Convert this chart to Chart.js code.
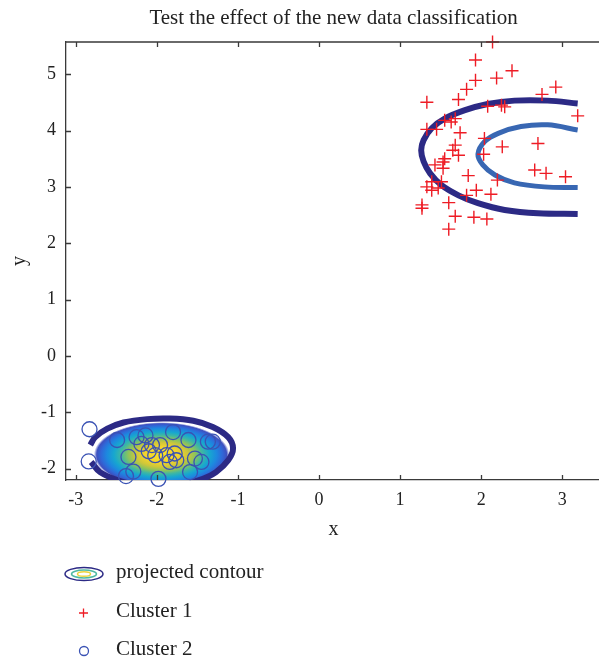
<!DOCTYPE html>
<html>
<head>
<meta charset="utf-8">
<title>Test the effect of the new data classification</title>
<script src="https://cdn.jsdelivr.net/npm/chart.js@4.4.1/dist/chart.umd.min.js"></script>
<style>
  html, body { margin: 0; padding: 0; background: #fff; overflow: hidden; }
  #wrap { position: relative; width: 610px; height: 663px; }
</style>
</head>
<body>
<div id="wrap"><canvas id="chart" width="610" height="663"></canvas></div>
<script>
// tick labels
const xTicks = [-3, -2, -1, 0, 1, 2, 3];
const yTicks = [-2, -1, 0, 1, 2, 3, 4, 5];

// Cluster 1 (red +)
const cluster1X = [2.14, 1.93, 1.93, 2.19, 2.38, 1.82, 1.72, 1.33, 2.75, 2.92, 3.19, 2.08, 2.25, 2.29, 1.68, 1.55, 1.63,
  1.33, 1.45, 1.74, 2.04, 2.26, 2.70, 1.68, 1.65, 1.72, 2.03, 1.55, 1.43, 1.53, 2.66, 2.80, 3.04, 1.84, 1.39, 1.51,
  2.20, 1.33, 1.39, 1.94, 1.82, 2.12, 1.27, 1.27, 1.60, 1.68, 1.91, 2.07, 1.60, 1.47, 1.53];
const cluster1Y = [5.57, 5.25, 4.89, 4.93, 5.06, 4.73, 4.55, 4.50, 4.64, 4.77, 4.26, 4.43, 4.45, 4.42, 4.21, 4.18, 4.15,
  4.02, 4.02, 3.96, 3.86, 3.71, 3.77, 3.74, 3.65, 3.56, 3.58, 3.50, 3.39, 3.33, 3.30, 3.24, 3.18, 3.20, 3.09, 3.09,
  3.12, 3.00, 2.94, 2.94, 2.85, 2.87, 2.68, 2.62, 2.72, 2.48, 2.46, 2.43, 2.25, 2.98, 3.44];

// Cluster 2 (blue o)
const cluster2X = [-2.83, -2.84, -2.49, -2.35, -2.29, -2.38, -2.25, -2.19, -2.14, -2.10, -2.06, -1.96, -2.02, -1.98,
  -1.88, -1.84, -1.80, -1.78, -1.76, -1.61, -1.59, -1.53, -1.45, -1.37, -1.31];
const cluster2Y = [-1.30, -1.87, -1.49, -1.79, -2.05, -2.13, -1.44, -1.56, -1.41, -1.69, -1.58, -1.58, -1.76, -2.18,
  -1.76, -1.88, -1.35, -1.73, -1.85, -1.49, -2.06, -1.82, -1.88, -1.52, -1.52];

// projected contour of cluster 1: outer and inner level
const outerArcX = [3.19, 2.82, 2.41, 2.08, 1.80, 1.55, 1.39, 1.29, 1.26, 1.29, 1.37, 1.51, 1.72, 1.96, 2.29, 2.70, 3.19];
const outerArcY = [4.48, 4.53, 4.53, 4.47, 4.36, 4.21, 4.04, 3.83, 3.65, 3.45, 3.24, 3.03, 2.85, 2.71, 2.59, 2.53, 2.52];
const innerArcX = [3.19, 2.82, 2.49, 2.21, 2.04, 1.96, 2.02, 2.17, 2.41, 2.78, 3.19];
const innerArcY = [4.01, 4.10, 4.07, 3.95, 3.80, 3.58, 3.39, 3.21, 3.07, 3.00, 2.99];

// projected contour of cluster 2: outer level, filled
const ringX = [-2.82, -2.76, -2.61, -2.41, -2.12, -1.84, -1.55, -1.31, -1.12, -1.06, -1.12, -1.27, -1.43, -1.63,
  -1.92, -2.25, -2.49, -2.70, -2.81];
const ringY = [-1.58, -1.44, -1.29, -1.18, -1.12, -1.11, -1.15, -1.26, -1.44, -1.64, -1.85, -2.06, -2.18, -2.26,
  -2.32, -2.29, -2.20, -2.06, -1.88];

const pts = (xs, ys) => xs.map((x, i) => ({ x: x, y: ys[i] }));

const SERIF = "'Liberation Serif', 'Times New Roman', serif";
const NAVY = '#2c2a85';
const MIDBLUE = '#3867b3';
const RED = '#ee1c25';
const BLUE = '#3a52b4';

// parula-like fill, built once per layout
let fillCache = null;
function contourFill(context) {
  const chart = context.chart;
  const area = chart.chartArea;
  if (!area) return 'rgba(0,0,0,0)';
  const key = area.left + ',' + area.top + ',' + area.right + ',' + area.bottom;
  if (fillCache && fillCache.key === key) return fillCache.pattern;
  const sx = chart.scales.x, sy = chart.scales.y;
  const x0 = sx.getPixelForValue(Math.min(...ringX)), x1 = sx.getPixelForValue(Math.max(...ringX));
  const y0 = sy.getPixelForValue(Math.max(...ringY)), y1 = sy.getPixelForValue(Math.min(...ringY));
  const cx = (x0 + x1) / 2, cy = (y0 + y1) / 2 + 2;
  const rx = (x1 - x0) / 2, ry = (y1 - y0) / 2;
  const off = document.createElement('canvas');
  off.width = chart.width; off.height = chart.height;
  const g = off.getContext('2d');
  g.translate(cx, cy);
  g.scale(1, ry / rx);
  const grad = g.createRadialGradient(0, 0, 0, 0, 0, rx);
  grad.addColorStop(0.00, '#fbe224');
  grad.addColorStop(0.22, '#f4d52c');
  grad.addColorStop(0.36, '#cfc63a');
  grad.addColorStop(0.47, '#8cc35c');
  grad.addColorStop(0.57, '#3eb7a3');
  grad.addColorStop(0.67, '#17a7cf');
  grad.addColorStop(0.77, '#1d88df');
  grad.addColorStop(0.85, '#2f68d8');
  grad.addColorStop(0.91, '#3d50c0');
  grad.addColorStop(0.95, '#ffffff');
  grad.addColorStop(1.00, '#ffffff');
  g.fillStyle = grad;
  g.fillRect(-rx, -rx, 2 * rx, 2 * rx);
  fillCache = { key: key, pattern: chart.ctx.createPattern(off, 'no-repeat') };
  return fillCache.pattern;
}

// box top edge, inward ticks, titles and legend
const decorations = {
  id: 'decorations',
  afterDraw(chart) {
    const { ctx, chartArea: a, scales: { x, y } } = chart;
    ctx.save();
    ctx.strokeStyle = '#3a3a3a';
    ctx.lineWidth = 1.3;
    ctx.beginPath();
    ctx.moveTo(a.left, a.top); ctx.lineTo(a.right, a.top);
    xTicks.forEach(v => {
      const px = Math.round(x.getPixelForValue(v)) + 0.5;
      ctx.moveTo(px, a.bottom); ctx.lineTo(px, a.bottom - 5);
      ctx.moveTo(px, a.top); ctx.lineTo(px, a.top + 5);
    });
    yTicks.forEach(v => {
      const py = Math.round(y.getPixelForValue(v)) + 0.5;
      ctx.moveTo(a.left, py); ctx.lineTo(a.left + 5, py);
    });
    ctx.stroke();

    const midX = (a.left + a.right) / 2;
    ctx.fillStyle = '#222';
    ctx.textAlign = 'center';
    ctx.textBaseline = 'alphabetic';
    ctx.font = '21px ' + SERIF;
    ctx.fillText('Test the effect of the new data classification', midX, 24);
    ctx.font = '20px ' + SERIF;
    ctx.fillText('x', midX, 535);
    ctx.save();
    ctx.translate(25, (a.top + a.bottom) / 2);
    ctx.rotate(-Math.PI / 2);
    ctx.fillText('y', 0, 0);
    ctx.restore();

    // legend
    ctx.lineWidth = 1.5;
    ctx.strokeStyle = NAVY;
    ctx.beginPath(); ctx.ellipse(84, 574, 19, 6.5, 0, 0, Math.PI * 2); ctx.stroke();
    ctx.strokeStyle = '#4fb9a2';
    ctx.beginPath(); ctx.ellipse(84, 574, 12.5, 4, 0, 0, Math.PI * 2); ctx.stroke();
    ctx.strokeStyle = '#ecd43c';
    ctx.beginPath(); ctx.ellipse(84, 574, 6.5, 2.3, 0, 0, Math.PI * 2); ctx.stroke();

    ctx.lineWidth = 1.3;
    ctx.strokeStyle = RED;
    ctx.beginPath();
    ctx.moveTo(79, 613); ctx.lineTo(88, 613);
    ctx.moveTo(83.5, 608.5); ctx.lineTo(83.5, 617.5);
    ctx.stroke();
    ctx.strokeStyle = BLUE;
    ctx.beginPath(); ctx.arc(84, 651, 4.5, 0, Math.PI * 2); ctx.stroke();

    ctx.textAlign = 'left';
    ctx.textBaseline = 'middle';
    ctx.font = '21px ' + SERIF;
    ctx.fillText('projected contour', 116, 572);
    ctx.fillText('Cluster 1', 116, 611);
    ctx.fillText('Cluster 2', 116, 649);
    ctx.restore();
  }
};

const axisFont = { family: SERIF, size: 18 };

new Chart(document.getElementById('chart'), {
  type: 'scatter',
  data: {
    datasets: [
      {
        label: 'Cluster 1',
        data: pts(cluster1X, cluster1Y),
        pointStyle: 'cross',
        pointRadius: 6.5,
        pointBorderWidth: 1.4,
        pointBorderColor: RED,
        clip: false
      },
      {
        label: 'Cluster 2',
        data: pts(cluster2X, cluster2Y),
        pointStyle: 'circle',
        pointRadius: 7.5,
        pointBorderWidth: 1.3,
        pointBorderColor: BLUE,
        pointBackgroundColor: 'rgba(0,0,0,0)',
        clip: false
      },
      {
        label: 'projected contour',
        data: pts(outerArcX, outerArcY),
        showLine: true,
        pointRadius: 0,
        borderColor: NAVY,
        borderWidth: 6,
        tension: 0.35,
        order: 1
      },
      {
        data: pts(innerArcX, innerArcY),
        showLine: true,
        pointRadius: 0,
        borderColor: MIDBLUE,
        borderWidth: 5,
        tension: 0.35,
        order: 1
      },
      {
        data: pts(ringX, ringY),
        showLine: true,
        pointRadius: 0,
        borderColor: NAVY,
        borderWidth: 6,
        tension: 0.35,
        fill: 'shape',
        backgroundColor: contourFill,
        clip: 0,
        order: 1
      }
    ]
  },
  options: {
    responsive: false,
    devicePixelRatio: 1,
    animation: false,
    layout: { padding: { top: 42, right: 6, left: 0, bottom: 0 } },
    plugins: { legend: { display: false }, tooltip: { enabled: false } },
    scales: {
      x: {
        type: 'linear',
        min: -3.12,
        max: 3.48,
        grid: { display: false, drawTicks: false },
        border: { display: true, color: '#3a3a3a', width: 1.3 },
        ticks: { font: axisFont, color: '#222', padding: 9, maxRotation: 0 },
        afterBuildTicks: s => { s.ticks = xTicks.map(v => ({ value: v })); },
        afterFit: s => { s.height = 183; }
      },
      y: {
        type: 'linear',
        min: -2.2,
        max: 5.57,
        grid: { display: false, drawTicks: false },
        border: { display: true, color: '#3a3a3a', width: 1.3 },
        ticks: { font: axisFont, color: '#222', padding: 10 },
        afterBuildTicks: s => { s.ticks = yTicks.map(v => ({ value: v })); },
        afterFit: s => { s.width = 66; }
      }
    }
  },
  plugins: [decorations]
});
</script>
</body>
</html>
